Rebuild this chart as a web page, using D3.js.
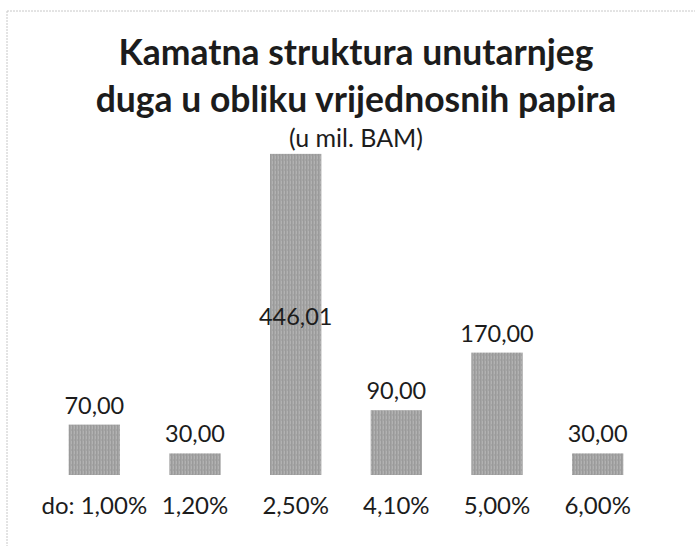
<!DOCTYPE html>
<html>
<head>
<meta charset="utf-8">
<script src="https://cdn.jsdelivr.net/npm/d3@7"></script>
<style>
  body { margin: 0; background: #fff; }
  svg { display: block; }
  text { font-family: Lato, "Open Sans", sans-serif; fill: #1c1c1c; }
</style>
</head>
<body>
<div id="chart"></div>
<script>
// data
var categories = ["do: 1,00%", "1,20%", "2,50%", "4,10%", "5,00%", "6,00%"];
var values = [70.00, 30.00, 446.01, 90.00, 170.00, 30.00];
var titleLines = ["Kamatna struktura unutarnjeg", "duga u obliku vrijednosnih papira"];
var subtitle = "(u mil. BAM)";

var width = 695, height = 546;

var svg = d3.select("#chart").append("svg")
    .attr("width", width)
    .attr("height", height);

// scan texture for the bars
var pat = svg.append("defs").append("pattern")
    .attr("id", "grain")
    .attr("width", 3).attr("height", 5)
    .attr("patternUnits", "userSpaceOnUse");
pat.append("rect").attr("width", 3).attr("height", 5).attr("fill", "#a5a5a5");
pat.append("rect").attr("width", 1).attr("height", 5).attr("fill", "#9a9a9a");
pat.append("rect").attr("x", 2).attr("y", 1).attr("width", 1).attr("height", 3).attr("fill", "#b2b2b2");

// chart area border (only top and left are visible in the scan)
svg.append("line")
    .attr("x1", 7).attr("y1", 11).attr("x2", width).attr("y2", 11)
    .attr("stroke", "#c8c8c8").attr("stroke-dasharray", "2,1");
svg.append("line")
    .attr("x1", 7).attr("y1", 11).attr("x2", 7).attr("y2", height)
    .attr("stroke", "#c8c8c8").attr("stroke-dasharray", "2,1");

var cx = 356;

svg.selectAll(".title")
  .data(titleLines)
  .enter()
  .append("text")
    .attr("class", "title")
    .attr("x", cx)
    .attr("y", function(d, i) { return 65 + i * 47; })
    .attr("text-anchor", "middle")
    .style("font-weight", "bold")
    .style("font-size", "35.5px")
    .text(function(d) { return d; });

svg.append("text")
    .attr("x", cx)
    .attr("y", 147)
    .attr("text-anchor", "middle")
    .style("font-size", "25px")
    .text(subtitle);

var x = d3.scaleBand()
    .domain(categories)
    .range([44, 648])
    .paddingInner(0.49)
    .paddingOuter(0.245);

var y = d3.scaleLinear()
    .domain([0, 500])
    .range([475, 115]);

svg.selectAll(".bar")
  .data(values)
  .enter()
  .append("rect")
    .attr("class", "bar")
    .attr("x", function(d, i) { return x(categories[i]); })
    .attr("width", x.bandwidth())
    .attr("y", function(d) { return y(d); })
    .attr("height", function(d) { return y(0) - y(d); })
    .attr("fill", "url(#grain)");

var fmt = function(v) { return v.toFixed(2).replace(".", ","); };

svg.selectAll(".val")
  .data(values)
  .enter()
  .append("text")
    .attr("class", "val")
    .attr("x", function(d, i) { return x(categories[i]) + x.bandwidth() / 2; })
    .attr("y", function(d) { return d > 400 ? y(d / 2) + 2 : y(d) - 20; })
    .attr("dominant-baseline", "central")
    .attr("text-anchor", "middle")
    .style("font-size", "23.5px")
    .text(fmt);

svg.selectAll(".cat")
  .data(categories)
  .enter()
  .append("text")
    .attr("class", "cat")
    .attr("x", function(d) { return x(d) + x.bandwidth() / 2; })
    .attr("y", 514)
    .attr("text-anchor", "middle")
    .style("font-size", "24px")
    .text(function(d) { return d; });
</script>
</body>
</html>
